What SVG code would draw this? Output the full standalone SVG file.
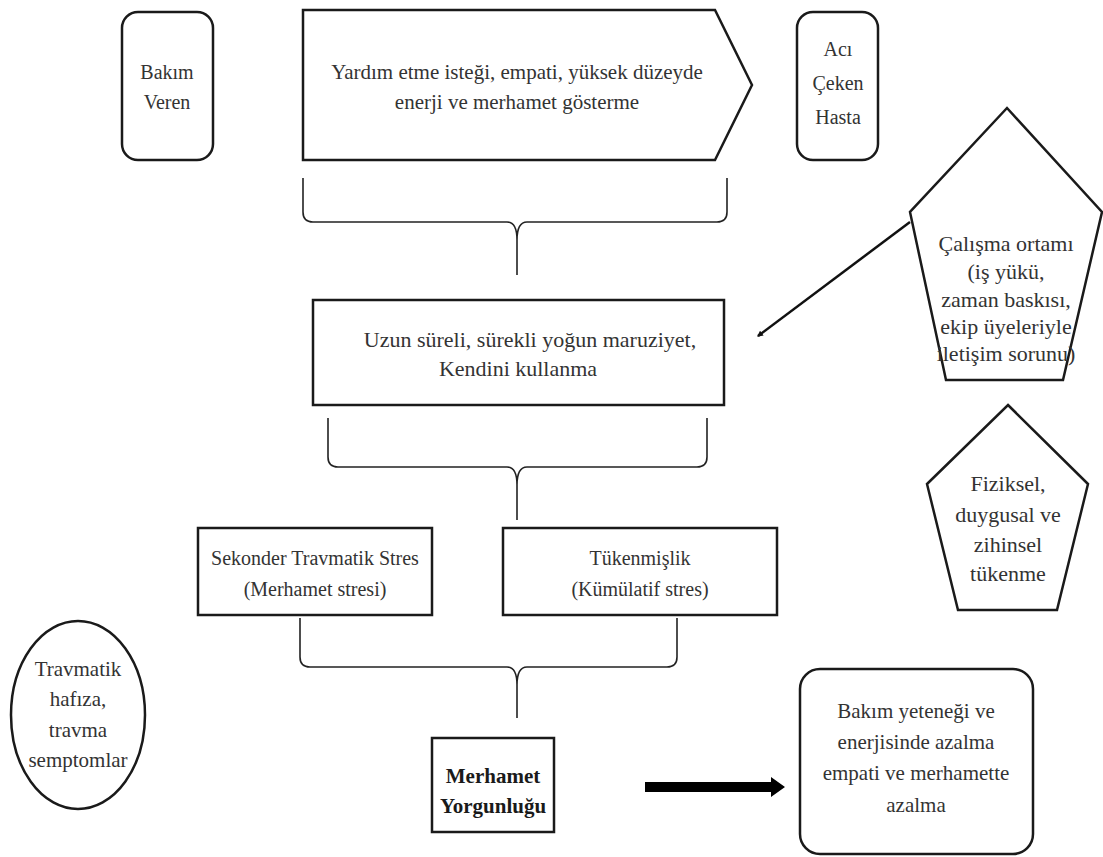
<svg xmlns="http://www.w3.org/2000/svg" width="1103" height="857" viewBox="0 0 1103 857">
  <style>
    .box { fill: #fff; stroke: #1a1a1a; stroke-width: 2.5; }
    .brace { fill: none; stroke: #222; stroke-width: 1.6; }
    .t { font-family: "Liberation Serif", Tinos, "Times New Roman", "DejaVu Serif", serif; font-size: 20px; fill: #333; text-anchor: middle; }
    .b { font-weight: bold; fill: #1a1a1a; font-size: 21px; }
    .s21 { font-size: 21px; }
    .s22 { font-size: 22px; }
  </style>
  <defs>
    <marker id="head" viewBox="0 0 10 10" refX="8" refY="5" markerWidth="6" markerHeight="6" orient="auto" markerUnits="userSpaceOnUse">
      <path d="M0,0 L10,5 L0,10 z" fill="#111"/>
    </marker>
  </defs>
  <rect width="1103" height="857" fill="#fff"/>

  <!-- connectors: braces and arrows -->
  <g id="connectors">
    <path class="brace" d="M303,178 V212 Q303,222 313,222 H507 Q517,222 517,240 V275 M727,178 V212 Q727,222 717,222 H527 Q517,222 517,240"/>
    <path class="brace" d="M328,418 V457 Q328,467 338,467 H507 Q517,467 517,485 V520 M707,418 V457 Q707,467 697,467 H527 Q517,467 517,485"/>
    <path class="brace" d="M300,618 V657 Q300,667 310,667 H507 Q517,667 517,685 V718 M677,618 V657 Q677,667 667,667 H527 Q517,667 517,685"/>
    <line x1="910" y1="222" x2="758" y2="336" stroke="#111" stroke-width="2.5" marker-end="url(#head)"/>
    <path d="M645,782 H771 V777 L785,787 L771,797 V792 H645 Z" fill="#000"/>
  </g>

  <g id="caregiver">
    <rect class="box" x="122" y="12" width="91" height="148" rx="16"/>
    <text class="t" x="167" y="79">Bakım</text>
    <text class="t" x="167" y="109">Veren</text>
  </g>

  <g id="helping">
    <path class="box" d="M303,10 H715 L752,85 L715,160 H303 Z"/>
    <text class="t s21" x="517" y="79">Yardım etme isteği, empati, yüksek düzeyde</text>
    <text class="t s21" x="517" y="109">enerji ve merhamet gösterme</text>
  </g>

  <g id="patient">
    <rect class="box" x="797" y="12" width="81" height="148" rx="16"/>
    <text class="t" x="838" y="56">Acı</text>
    <text class="t" x="838" y="90">Çeken</text>
    <text class="t" x="838" y="124">Hasta</text>
  </g>

  <g id="workplace">
    <path class="box" d="M1007,108 L1102,212 L1063,380 H946 L910,212 Z"/>
    <text class="t s22" x="1006" y="251">Çalışma ortamı</text>
    <text class="t s22" x="1006" y="279">(iş yükü,</text>
    <text class="t s22" x="1006" y="307">zaman baskısı,</text>
    <text class="t s22" x="1006" y="334">ekip üyeleriyle</text>
    <text class="t s22" x="1006" y="361">iletişim sorunu)</text>
  </g>

  <g id="exposure">
    <rect class="box" x="313" y="300" width="411" height="105"/>
    <text class="t s22" x="530" y="347">Uzun süreli, sürekli yoğun maruziyet,</text>
    <text class="t s22" x="518" y="376">Kendini kullanma</text>
  </g>

  <g id="exhaustion">
    <path class="box" d="M1008,405 L1088,484 L1057,610 H958 L927,484 Z"/>
    <text class="t s22" x="1008" y="491">Fiziksel,</text>
    <text class="t s22" x="1008" y="522">duygusal ve</text>
    <text class="t s22" x="1008" y="552">zihinsel</text>
    <text class="t s22" x="1008" y="581">tükenme</text>
  </g>

  <g id="sts">
    <rect class="box" x="198" y="528" width="234" height="87"/>
    <text class="t" x="315" y="565">Sekonder Travmatik Stres</text>
    <text class="t" x="315" y="596">(Merhamet stresi)</text>
  </g>

  <g id="burnout">
    <rect class="box" x="503" y="528" width="274" height="87"/>
    <text class="t" x="640" y="565">Tükenmişlik</text>
    <text class="t" x="640" y="596">(Kümülatif stres)</text>
  </g>

  <g id="trauma">
    <ellipse class="box" cx="78" cy="715" rx="67" ry="94"/>
    <text class="t s21" x="78" y="676">Travmatik</text>
    <text class="t s21" x="78" y="706">hafıza,</text>
    <text class="t s21" x="78" y="737">travma</text>
    <text class="t s21" x="78" y="767">semptomlar</text>
  </g>

  <g id="fatigue">
    <rect class="box" x="432" y="738" width="122" height="94"/>
    <text class="t b" x="493" y="783">Merhamet</text>
    <text class="t b" x="493" y="813">Yorgunluğu</text>
  </g>

  <g id="outcome">
    <rect class="box" x="800" y="669" width="233" height="185" rx="20"/>
    <text class="t s21" x="916" y="718">Bakım yeteneği ve</text>
    <text class="t s21" x="916" y="749">enerjisinde azalma</text>
    <text class="t s21" x="916" y="780">empati ve merhamette</text>
    <text class="t s21" x="916" y="812">azalma</text>
  </g>
</svg>
